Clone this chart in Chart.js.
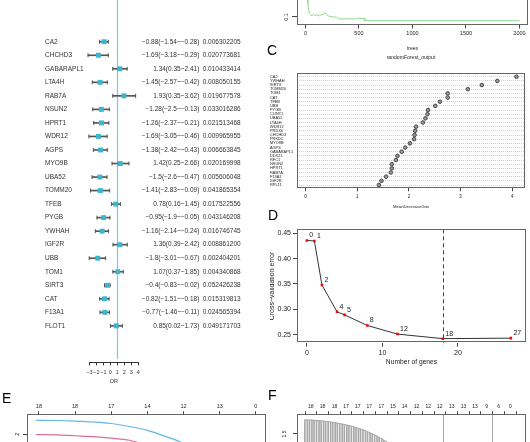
<!DOCTYPE html>
<html>
<head>
<meta charset="utf-8">
<script src="https://cdn.jsdelivr.net/npm/chart.js"></script>
<style>
html, body { margin: 0; padding: 0; background: #fff; }
body { width: 530px; height: 442px; position: relative; overflow: hidden; font-family: "Liberation Sans", Arial, sans-serif; }
canvas { position: absolute; }
.tag { position: absolute; font-size: 14px; line-height: 14px; color: #000; }
</style>
</head>
<body>
<canvas id="forest" width="270" height="392" style="left:0;top:0"></canvas>
<canvas id="rfErr" width="260" height="200" style="left:270px;top:-135px"></canvas>
<canvas id="gini" width="260" height="170" style="left:270px;top:45px"></canvas>
<canvas id="cv" width="260" height="170" style="left:270px;top:205px"></canvas>
<canvas id="lasso" width="270" height="200" style="left:0;top:385px"></canvas>
<canvas id="lassoCv" width="260" height="200" style="left:270px;top:385px"></canvas>
<div class="tag" style="left:267px;top:43px">C</div>
<div class="tag" style="left:268px;top:208px">D</div>
<div class="tag" style="left:2px;top:391px">E</div>
<div class="tag" style="left:268px;top:388px">F</div>
<script>
// forest plot (univariate logistic)
const genes = ['CA2', 'CHCHD3', 'GABARAPL1', 'LTA4H', 'RAB7A', 'NSUN2', 'HPRT1', 'WDR12', 'AGPS', 'MYO9B', 'UBA52',
    'TOMM20', 'TFEB', 'PYGB', 'YWHAH', 'IGF2R', 'UBB', 'TOM1', 'SIRT3', 'CAT', 'F13A1', 'FLOT1'];
const orEst = [-0.88, -1.69, 1.34, -1.45, 1.93, -1.28, -1.26, -1.69, -1.38, 1.42, -1.5, -1.41, 0.78, -0.95, -1.16, 1.36, -1.8, 1.07, -0.4, -0.82, -0.77, 0.85];
const orLow = [-1.54, -3.18, 0.35, -2.57, 0.35, -2.5, -2.37, -3.05, -2.42, 0.25, -2.6, -2.83, 0.16, -1.9, -2.14, 0.39, -3.01, 0.37, -0.83, -1.51, -1.46, 0.02];
const orHigh = [-0.28, -0.29, 2.41, -0.42, 3.62, -0.13, -0.21, -0.46, -0.43, 2.66, -0.47, -0.09, 1.45, -0.05, -0.24, 2.42, -0.67, 1.85, -0.02, -0.18, -0.11, 1.73];
const pVals = ['0.006302205', '0.020773681', '0.010433414', '0.008050155', '0.019677578', '0.033016286', '0.021513468',
    '0.009965955', '0.006663845', '0.020169998', '0.005606048', '0.041865354', '0.017522556', '0.043146208', '0.016746745',
    '0.008861200', '0.002404201', '0.004340868', '0.052426238', '0.015319813', '0.024565394', '0.049171703'];
const orTicks = [-3, -2, -1, 0, 1, 2, 3, 4];
const refLine = 1;

// B: random forest error vs trees
const treesB = [1, 8, 15, 22, 30, 40, 50, 60, 75, 90, 110, 130, 150, 170, 185, 200, 215, 240, 270, 290, 310, 400, 480, 485, 550, 555, 2000];
const errB = [0.45, 0.30, 0.20, 0.15, 0.125, 0.112, 0.108, 0.104, 0.110, 0.106, 0.108, 0.104, 0.109, 0.111, 0.116, 0.108, 0.104,
    0.101, 0.100, 0.099, 0.093, 0.093, 0.093, 0.095, 0.095, 0.086, 0.086];
const treeTicks = [0, 500, 1000, 1500, 2000];
const errTicks = [0.1, 0.2, 0.3, 0.4, 0.5, 0.6];

// C: MeanDecreaseGini
const giniGenes = ['CA2', 'YWHAH', 'SIRT3', 'TOMM20', 'TOM1', 'CAT', 'TFEB', 'UBB', 'PYGB', 'CLINT1', 'UBA52', 'LTA4H', 'WDR12',
    'PRDX6', 'CHCHD3', 'PRKDC', 'MYO9B', 'AGPS', 'GABARAPL1', 'DDX21', 'RFC1', 'NSUN2', 'HPRT1', 'RAB7A', 'F13A1', 'IGF2R', 'RPL11'];
const giniVals = [4.08, 3.71, 3.41, 3.14, 2.75, 2.75, 2.60, 2.51, 2.37, 2.36, 2.32, 2.27, 2.14, 2.12, 2.11, 2.10, 2.02, 1.93,
    1.86, 1.78, 1.75, 1.67, 1.67, 1.65, 1.56, 1.47, 1.42];
const giniTicks = [0, 1, 2, 3, 4];

// D: SVM-RFE cross-validation error
const nGenes = [0, 1, 2, 4, 5, 8, 12, 18, 27];
const cvErr = [0.436, 0.435, 0.348, 0.295, 0.289, 0.268, 0.251, 0.242, 0.243];
const bestN = 18;
const geneTicks = [0, 10, 20];
const cvTicks = [0.25, 0.30, 0.35, 0.40, 0.45];

// E: lasso coefficient paths
const eLogLambda = [-7.08, -6.5, -6, -5.5, -5, -4.5, -4, -3.5, -3, -2.5, -2, -1.5, -1];
const coefBlue = [2.47, 2.46, 2.44, 2.41, 2.36, 2.26, 2.13, 1.93, 1.68, 1.2, 0.6, 0.1, 0];
const coefPink = [1.99, 1.98, 1.95, 1.92, 1.87, 1.80, 1.62, 1.30, 0.80, 0.30, 0, 0, 0];
const eTopAt = [-7, -6, -5, -4, -3, -2, -1];
const eTopLabels = ['18', '18', '17', '14', '12', '13', '0'];
const coefTicks = [-2, -1, 0, 1, 2];

// F: lasso cross-validation
const fLogLambda = [-7.00, -6.93, -6.87, -6.80, -6.74, -6.67, -6.60, -6.54, -6.47, -6.41, -6.34, -6.27, -6.21, -6.14, -6.08,
    -6.01, -5.94, -5.88, -5.81, -5.75, -5.68, -5.61, -5.55, -5.48, -5.42, -5.35, -5.28, -5.22, -5.15, -5.09, -5.02, -4.95,
    -4.89, -4.82, -4.76, -4.69, -4.62, -4.56, -4.49, -4.43];
const fUpper = [1.735, 1.734, 1.733, 1.731, 1.729, 1.726, 1.723, 1.719, 1.715, 1.710, 1.705, 1.700, 1.694, 1.688, 1.681,
    1.674, 1.666, 1.658, 1.649, 1.640, 1.630, 1.619, 1.607, 1.595, 1.582, 1.568, 1.553, 1.537, 1.520, 1.502, 1.483, 1.463,
    1.442, 1.420, 1.397, 1.373, 1.348, 1.322, 1.295, 1.268];
const fMean = [1.285, 1.284, 1.283, 1.281, 1.279, 1.276, 1.273, 1.269, 1.265, 1.260, 1.255, 1.250, 1.244, 1.238, 1.231,
    1.224, 1.216, 1.208, 1.199, 1.190, 1.180, 1.169, 1.157, 1.145, 1.132, 1.118, 1.103, 1.087, 1.070, 1.052, 1.033, 1.013,
    0.992, 0.970, 0.947, 0.923, 0.898, 0.872, 0.845, 0.818];
const fLower = [0.835, 0.834, 0.833, 0.831, 0.829, 0.826, 0.823, 0.819, 0.815, 0.810, 0.805, 0.800, 0.794, 0.788, 0.781,
    0.774, 0.766, 0.758, 0.749, 0.740, 0.730, 0.719, 0.707, 0.695, 0.682, 0.668, 0.653, 0.637, 0.620, 0.602, 0.583, 0.563,
    0.542, 0.520, 0.497, 0.473, 0.448, 0.422, 0.395, 0.368];
const fTopAt = [-7.00, -6.65, -6.29, -5.94, -5.59, -5.24, -4.88, -4.53, -4.18, -3.82, -3.47, -3.12, -2.76, -2.41, -2.06, -1.71, -1.35, -1.00];
const fTopLabels = ['18', '18', '18', '17', '17', '17', '17', '15', '14', '12', '12', '12', '13', '13', '13', '9', '6', '0'];
const fLambdaLines = [-3.08, -1.70];
const devTicks = [-0.5, 0, 0.5, 1, 1.5];

const FONT = '"Liberation Sans", Arial, sans-serif';
Chart.defaults.font.family = FONT;
Chart.defaults.color = '#333';
Chart.defaults.animation = false;
Chart.defaults.responsive = false;
Chart.defaults.events = [];
Chart.defaults.plugins.legend.display = false;
Chart.defaults.plugins.tooltip.enabled = false;

const minus = v => (v < 0 ? '\u2212' : '') + Math.abs(v);
const fixSize = n => s => { if (s.isHorizontal()) s.height = n; else s.width = n; };
const useTicks = arr => s => { s.ticks = arr.map(v => ({ value: v })); };

function boxPlugin(color) {
    return {
        id: 'box',
        afterDatasetsDraw(chart) {
            const a = chart.chartArea, ctx = chart.ctx;
            ctx.save();
            ctx.strokeStyle = color;
            ctx.lineWidth = 1;
            ctx.strokeRect(Math.round(a.left) + 0.5, Math.round(a.top) + 0.5,
                Math.round(a.right - a.left) - 1, Math.round(a.bottom - a.top) - 1);
            ctx.restore();
        }
    };
}

function textPlugin(items) {
    return {
        id: 'texts',
        afterDraw(chart) {
            const ctx = chart.ctx, a = chart.chartArea;
            items.forEach(it => {
                ctx.save();
                ctx.font = it.size + 'px ' + FONT;
                ctx.fillStyle = it.color || '#222';
                ctx.textAlign = it.align || 'center';
                ctx.textBaseline = 'middle';
                const x = it.x === 'mid' ? (a.left + a.right) / 2 : it.x;
                const y = it.y === 'mid' ? (a.top + a.bottom) / 2 : it.y;
                ctx.translate(x, y);
                if (it.rot) ctx.rotate(it.rot * Math.PI / 180);
                ctx.fillText(it.t, 0, 0);
                ctx.restore();
            });
        }
    };
}

// R style vertical tick labels on the y axis
function rotTicks(axis, x, size, fmt) {
    return {
        id: 'rotTicks',
        afterDraw(chart) {
            const s = chart.scales[axis], ctx = chart.ctx;
            ctx.save();
            ctx.font = size + 'px ' + FONT;
            ctx.fillStyle = '#222';
            ctx.textAlign = 'center';
            ctx.textBaseline = 'middle';
            s.ticks.forEach(t => {
                const y = s.getPixelForValue(t.value);
                ctx.save();
                ctx.translate(x, y);
                ctx.rotate(-Math.PI / 2);
                ctx.fillText(fmt(t.value), 0, 0);
                ctx.restore();
            });
            ctx.restore();
        }
    };
}

function vLines(values, style) {
    return {
        id: 'vLines',
        beforeDatasetsDraw(chart) {
            const s = chart.scales.x, a = chart.chartArea, ctx = chart.ctx;
            ctx.save();
            ctx.strokeStyle = style.color;
            ctx.lineWidth = style.width || 1;
            ctx.setLineDash(style.dash || []);
            values.forEach(v => {
                const px = Math.round(s.getPixelForValue(v)) + 0.5;
                ctx.beginPath();
                ctx.moveTo(px, style.top != null ? style.top : a.top);
                ctx.lineTo(px, a.bottom + (style.bottomOff || 0));
                ctx.stroke();
            });
            ctx.restore();
        }
    };
}

function initializeCharts() {
    // A: forest plot
    const forestText = {
        id: 'forestText',
        afterDraw(chart) {
            const ctx = chart.ctx, y = chart.scales.y;
            ctx.save();
            ctx.font = '6.5px ' + FONT;
            ctx.fillStyle = '#333';
            ctx.textBaseline = 'middle';
            genes.forEach((g, i) => {
                const py = y.getPixelForValue(i);
                ctx.textAlign = 'left';
                ctx.fillText(g, 45, py);
                ctx.textAlign = 'right';
                ctx.fillText(`${minus(orEst[i])}(${minus(orLow[i])}~${minus(orHigh[i])})`, 199.3, py);
                ctx.textAlign = 'left';
                ctx.fillText(pVals[i], 202.7, py);
            });
            ctx.restore();
        }
    };
    new Chart(document.getElementById('forest'), {
        type: 'scatter',
        data: {
            datasets: [{
                data: genes.map((g, i) => ({ x: orEst[i], y: i })),
                pointStyle: 'rect',
                radius: 3.5,
                backgroundColor: '#3cb5cf',
                borderColor: '#3cb5cf',
                borderWidth: 0,
                clip: false
            }, {
                data: genes.map((g, i) => ({ x: orLow[i], y: i })),
                pointStyle: 'line',
                rotation: 90,
                radius: 2,
                borderColor: '#555',
                borderWidth: 1,
                clip: false
            }, {
                data: genes.map((g, i) => ({ x: orHigh[i], y: i })),
                pointStyle: 'line',
                rotation: 90,
                radius: 2,
                borderColor: '#555',
                borderWidth: 1,
                clip: false
            }, {
                type: 'bar',
                indexAxis: 'y',
                data: genes.map((g, i) => ({ y: i, x: [orLow[i], orHigh[i]] })),
                backgroundColor: '#555',
                borderWidth: 0,
                barThickness: 1,
                clip: false
            }]
        },
        options: {
            layout: { padding: { left: 89.3, right: 131.7, top: 5.2, bottom: 7.6 } },
            scales: {
                x: {
                    type: 'linear', min: -3, max: 4, afterFit: fixSize(22),
                    afterBuildTicks: useTicks(orTicks),
                    ticks: { autoSkip: false, maxRotation: 0, padding: 4, color: '#333', font: { size: 5.5 }, callback: v => minus(v) },
                    grid: { drawOnChartArea: false, tickLength: 3, color: '#333' },
                    border: { display: true, color: '#333' }
                },
                y: { type: 'linear', reverse: true, min: -0.5, max: 21.5, display: false }
            }
        },
        plugins: [
            vLines([refLine], { color: '#72cfd4', width: 1.2, top: 0, bottomOff: -3.5 }),
            forestText,
            textPlugin([{ t: 'OR', x: 'mid', y: 381, size: 5.5, color: '#333' }])
        ]
    });

    // B: error vs trees (only the lower part is in frame)
    new Chart(document.getElementById('rfErr'), {
        type: 'line',
        data: {
            datasets: [{
                data: treesB.map((t, i) => ({ x: t, y: errB[i] })),
                borderColor: '#8cd98c',
                borderWidth: 1,
                pointRadius: 0
            }]
        },
        options: {
            layout: { padding: { left: 0, right: 2, top: 10, bottom: 27 } },
            scales: {
                x: {
                    type: 'linear', min: -79, max: 2080, afterFit: fixSize(13),
                    afterBuildTicks: useTicks(treeTicks),
                    ticks: { autoSkip: false, maxRotation: 0, padding: 2, color: '#222', font: { size: 5.5 }, callback: v => String(v) },
                    grid: { drawOnChartArea: false, tickLength: 3.5, color: '#444' },
                    border: { display: false }
                },
                y: {
                    type: 'linear', min: 0.07, max: 0.632, afterFit: fixSize(27),
                    afterBuildTicks: useTicks(errTicks),
                    ticks: { display: false },
                    grid: { drawOnChartArea: false, tickLength: 5, color: '#444' },
                    border: { display: false }
                }
            }
        },
        plugins: [
            boxPlugin('#666'),
            rotTicks('y', 16, 5.5, v => String(v)),
            textPlugin([{ t: 'trees', x: 'mid', y: 184, size: 5 }])
        ]
    });

    // C: variable importance
    new Chart(document.getElementById('gini'), {
        type: 'scatter',
        data: {
            datasets: [{
                data: giniVals.map((v, i) => ({ x: v, y: i })),
                radius: 1.8,
                backgroundColor: '#999',
                borderColor: '#444',
                borderWidth: 1
            }]
        },
        options: {
            layout: { padding: { left: 0, right: 2, top: 28.3, bottom: 16.7 } },
            scales: {
                x: {
                    type: 'linear', min: -0.163, max: 4.245, afterFit: fixSize(10),
                    afterBuildTicks: useTicks(giniTicks),
                    ticks: { autoSkip: false, maxRotation: 0, padding: 3, color: '#222', font: { size: 4.5 } },
                    grid: { drawOnChartArea: false, tickLength: 3, color: '#444' },
                    border: { display: false }
                },
                y: {
                    type: 'linear', reverse: true, min: -0.82, max: 26.79, afterFit: fixSize(27),
                    afterBuildTicks: s => { s.ticks = giniGenes.map((g, i) => ({ value: i })); },
                    ticks: {
                        autoSkip: false, crossAlign: 'far', padding: 1,
                        color: '#222', font: { size: 3.9 }, callback: v => giniGenes[v]
                    },
                    grid: { drawTicks: false, color: '#c4c4c4', lineWidth: 0.8 },
                    border: { display: false, dash: [1, 1] }
                }
            }
        },
        plugins: [
            boxPlugin('#666'),
            textPlugin([
                { t: 'randomForest_output', x: 'mid', y: 13, size: 5.1 },
                { t: 'MeanDecreaseGini', x: 'mid', y: 162, size: 4.2 }
            ])
        ]
    });

    // D: cross-validation error vs number of genes
    const pointLabels = {
        id: 'pointLabels',
        afterDatasetsDraw(chart) {
            const ctx = chart.ctx, meta = chart.getDatasetMeta(0);
            ctx.save();
            ctx.font = '7px ' + FONT;
            ctx.fillStyle = '#222';
            ctx.textAlign = 'left';
            ctx.textBaseline = 'middle';
            meta.data.forEach((pt, i) => ctx.fillText(String(nGenes[i]), pt.x + 2.5, pt.y - 5));
            ctx.restore();
        }
    };
    new Chart(document.getElementById('cv'), {
        type: 'line',
        data: {
            datasets: [{
                data: nGenes.map((n, i) => ({ x: n, y: cvErr[i] })),
                borderColor: '#333',
                borderWidth: 1,
                pointStyle: 'rect',
                pointRadius: 1.8,
                pointBackgroundColor: '#ff0000',
                pointBorderColor: '#ff0000',
                pointBorderWidth: 0
            }]
        },
        options: {
            layout: { padding: { left: 0, right: 2, top: 24.3, bottom: 18.3 } },
            scales: {
                x: {
                    type: 'linear', min: -1.3, max: 29, afterFit: fixSize(14),
                    afterBuildTicks: useTicks(geneTicks),
                    ticks: { autoSkip: false, maxRotation: 0, padding: 2, color: '#222', font: { size: 7 } },
                    grid: { drawOnChartArea: false, tickLength: 4, color: '#444' },
                    border: { display: false }
                },
                y: {
                    type: 'linear', min: 0.234, max: 0.458, afterFit: fixSize(27),
                    afterBuildTicks: useTicks(cvTicks),
                    ticks: { padding: 2, color: '#222', font: { size: 7 }, callback: v => v.toFixed(2) },
                    grid: { drawOnChartArea: false, tickLength: 4, color: '#444' },
                    border: { display: false }
                }
            }
        },
        plugins: [
            boxPlugin('#666'),
            vLines([bestN], { color: '#444', width: 1, dash: [4, 3] }),
            pointLabels,
            textPlugin([
                { t: 'Number of genes', x: 'mid', y: 157, size: 6.7 },
                { t: 'Cross\u2212validation error', x: 2, y: 'mid', size: 7, rot: -90 }
            ])
        ]
    });

    // E: lasso coefficient paths
    new Chart(document.getElementById('lasso'), {
        type: 'line',
        data: {
            datasets: [{
                data: eLogLambda.map((l, i) => ({ x: l, y: coefBlue[i] })),
                borderColor: '#62b8e6',
                borderWidth: 1.2,
                pointRadius: 0,
                cubicInterpolationMode: 'monotone'
            }, {
                data: eLogLambda.map((l, i) => ({ x: l, y: coefPink[i] })),
                borderColor: '#d9718f',
                borderWidth: 1.2,
                pointRadius: 0,
                cubicInterpolationMode: 'monotone'
            }]
        },
        options: {
            layout: { padding: { left: 0, right: 4, top: 0, bottom: 11 } },
            scales: {
                x: { type: 'linear', min: -7.33, max: -0.72, display: false },
                x2: {
                    axis: 'x', type: 'linear', position: 'top', min: -7.33, max: -0.72, afterFit: fixSize(29.3),
                    afterBuildTicks: useTicks(eTopAt),
                    ticks: { autoSkip: false, maxRotation: 0, padding: 2, color: '#222', font: { size: 5.5 }, callback: (v, i) => eTopLabels[i] },
                    grid: { drawOnChartArea: false, tickLength: 3, color: '#444' },
                    border: { display: false }
                },
                y: {
                    type: 'linear', min: -2.667, max: 2.667, afterFit: fixSize(27),
                    afterBuildTicks: useTicks(coefTicks),
                    ticks: { display: false },
                    grid: { drawOnChartArea: false, tickLength: 4, color: '#444' },
                    border: { display: false }
                }
            }
        },
        plugins: [boxPlugin('#666'), rotTicks('y', 17, 5.5, v => String(v))]
    });

    // F: lasso cross-validation
    new Chart(document.getElementById('lassoCv'), {
        type: 'bar',
        data: {
            datasets: [{
                type: 'scatter',
                data: fLogLambda.map((l, i) => ({ x: l, y: fMean[i] })),
                radius: 1.5,
                backgroundColor: '#ff0000',
                borderWidth: 0
            }, {
                type: 'line',
                data: fLogLambda.map((l, i) => ({ x: l, y: fUpper[i] })),
                borderColor: '#a8a8a8',
                borderWidth: 1,
                pointRadius: 0
            }, {
                data: fLogLambda.map((l, i) => ({ x: l, y: [fLower[i], fUpper[i]] })),
                backgroundColor: '#a8a8a8',
                borderWidth: 0,
                barThickness: 1
            }]
        },
        options: {
            layout: { padding: { left: 0, right: 2, top: 0, bottom: 11 } },
            scales: {
                x: { type: 'linear', min: -7.225, max: -0.72, offset: false, grid: { offset: false }, display: false },
                x2: {
                    axis: 'x', type: 'linear', position: 'top', min: -7.225, max: -0.72, afterFit: fixSize(29.3),
                    afterBuildTicks: useTicks(fTopAt),
                    ticks: { autoSkip: false, maxRotation: 0, padding: 2, color: '#222', font: { size: 5 }, callback: (v, i) => fTopLabels[i] },
                    grid: { drawOnChartArea: false, tickLength: 3, color: '#444' },
                    border: { display: false }
                },
                y: {
                    type: 'linear', min: -0.834, max: 1.828, afterFit: fixSize(27),
                    afterBuildTicks: useTicks(devTicks),
                    ticks: { display: false },
                    grid: { drawOnChartArea: false, tickLength: 4, color: '#444' },
                    border: { display: false }
                }
            }
        },
        plugins: [
            boxPlugin('#666'),
            vLines(fLambdaLines, { color: '#aaa', width: 1 }),
            rotTicks('y', 15, 5, v => String(v))
        ]
    });
}

document.addEventListener('DOMContentLoaded', initializeCharts);
</script>
</body>
</html>
